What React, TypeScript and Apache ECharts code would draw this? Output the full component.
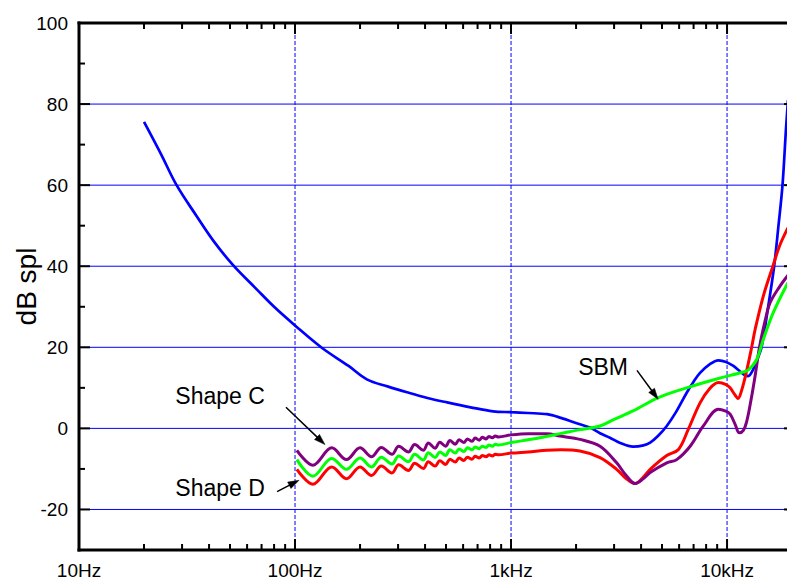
import React, { useEffect, useRef } from 'react';
import * as echarts from 'echarts';

// ---- axis ranges & ticks ----
const F_MIN = 10;
const F_MAX = 19150;
const Y_MIN = -30;
const Y_MAX = 100;

const xMajorTicks = [10, 100, 1000, 10000];
const xTickLabels = ['10Hz', '100Hz', '1kHz', '10kHz'];
const xMinorTicks = [20, 30, 40, 50, 60, 70, 80, 90, 200, 300, 400, 500, 600, 700, 800, 900, 2000, 3000, 4000, 5000, 6000, 7000, 8000, 9000];
const yMajorTicks = [-20, 0, 20, 40, 60, 80, 100];
const yMinorTicks = [-10, 10, 30, 50, 70, 90];
const hGridValues = [-20, 0, 20, 40, 60, 80];
const vGridValues = [100, 1000, 10000];

// ---- blue curve ----
const thresholdFreq = [20, 24, 28.3, 35, 42, 51.8, 66.5, 80, 100, 133, 177, 215, 270, 330, 410, 506, 650, 826, 1000, 1200, 1468, 1700, 2084, 2323, 2582, 2870, 3200, 3670, 4100, 4406, 4800, 5260, 5800, 6505, 7000, 7498, 8300, 9120, 9900, 10700, 11400, 12110, 12540, 13200, 13800, 14450, 15500, 16520, 17300, 18060, 18750, 19150];
const thresholdDb = [75.6, 67.6, 60, 52.4, 46.2, 40.2, 34.3, 30.0, 25.4, 19.9, 15.4, 12.1, 10.3, 8.9, 7.5, 6.4, 5.2, 4.2, 4.0, 3.8, 3.5, 2.6, 1.0, 0.2, -1.2, -2.3, -3.6, -4.5, -4.2, -3.5, -1.8, 0.6, 4.0, 8.8, 11.5, 13.7, 15.8, 16.8, 16.4, 15.4, 14.2, 13.1, 12.9, 14.5, 17.0, 20.0, 30.0, 40.0, 50.0, 60.0, 74.0, 81.0];

// ---- low-frequency ripple section (shared frequencies) ----
const rippleFreq = [102, 121, 148, 173, 200, 226, 251, 281, 302, 335, 358, 393, 414, 445, 468, 498, 521, 552, 575, 605, 628, 660, 682, 713, 736, 767, 790, 820, 845, 875];
const shapeCRippleDb = [-5.4, -9.1, -4.8, -7.7, -4.8, -7.0, -4.7, -6.4, -4.4, -5.8, -4.0, -5.4, -3.6, -4.9, -3.4, -4.4, -3.0, -3.9, -2.8, -3.5, -2.6, -3.2, -2.4, -2.9, -2.2, -2.6, -2.0, -2.3, -1.9, -2.1];
const sbmRippleDb = [-7.7, -11.8, -7.4, -10.1, -7.3, -9.5, -7.1, -8.8, -6.8, -8.2, -6.4, -7.8, -6.0, -7.2, -5.8, -6.7, -5.3, -6.1, -5.1, -5.7, -4.8, -5.3, -4.6, -5.0, -4.4, -4.7, -4.1, -4.4, -3.9, -4.1];
const shapeDRippleDb = [-10.1, -13.8, -9.5, -12.4, -9.5, -11.6, -9.3, -11.0, -9.0, -10.4, -8.6, -9.9, -8.2, -9.3, -8.0, -8.9, -7.6, -8.3, -7.3, -7.9, -7.1, -7.6, -6.9, -7.3, -6.7, -7.0, -6.5, -6.8, -6.4, -6.5];

// ---- upper sections ----
const shapeCUpperFreq = [1000, 1200, 1468, 1687, 2084, 2582, 3083, 3400, 3750, 4100, 4406, 5260, 5850, 6750, 7770, 9120, 9800, 10330, 10900, 11400, 11900, 12300, 12760, 13400, 14130, 15000, 15820, 17580, 19150];
const shapeCUpperDb = [-1.6, -1.3, -1.3, -1.9, -2.7, -4.4, -8.5, -11.5, -13.6, -12.4, -10.9, -8.5, -7.7, -4.4, 0.6, 4.7, 4.3, 3.5, 1.0, -1.1, -0.5, 1.5, 5.5, 12.0, 20.0, 26.5, 31.0, 35.1, 37.8];

const sbmUpperFreq = [1000, 1200, 1360, 1687, 2084, 2582, 3000, 3670, 4810, 6505, 9120, 11880, 12540, 13710, 14730, 16380, 19150];
const sbmUpperDb = [-3.5, -2.8, -2.3, -1.3, -0.3, 0.6, 2.2, 4.3, 7.6, 10.0, 12.3, 13.9, 14.4, 17.0, 22.0, 28.6, 36.0];

const shapeDUpperFreq = [1000, 1200, 1468, 1700, 2084, 2582, 3083, 3400, 3750, 4100, 4406, 5260, 5960, 6620, 7500, 8300, 9120, 9900, 10330, 10800, 11240, 11700, 12300, 13000, 13490, 14730, 16300, 17500, 19150];
const shapeDUpperDb = [-6.1, -5.8, -5.4, -5.3, -5.6, -7.2, -10.1, -12.3, -13.6, -12.0, -10.1, -6.7, -5.2, -0.2, 6.3, 9.8, 11.3, 10.8, 10.0, 8.5, 7.4, 9.5, 14.0, 20.0, 24.4, 32.7, 40.0, 45.0, 49.5];

// ---- annotations (data coordinates) ----
const annotationTexts = [
  { text: 'Shape C', f: 45, db: 8.1 },
  { text: 'Shape D', f: 45, db: -14.6 },
  { text: 'SBM', f: 2668, db: 15.1 },
];
const annotationArrows = [
  { from: [90.8, 5.2], to: [137.6, -4.0] },
  { from: [82.6, -15.6], to: [104.4, -12.8] },
  { from: [3828, 14.3], to: [4797, 7.2] },
];

const FONT = '"Liberation Sans", Arial, Helvetica, sans-serif';

const pair = (fs: number[], vs: number[]) => fs.map((f, i) => [f, vs[i]]);

function labelFor(v: number): string {
  const idx = xMajorTicks.findIndex((t) => Math.abs(t - v) / t < 1e-6);
  return idx >= 0 ? xTickLabels[idx] : '';
}

const curve = (name: string, data: number[][], color: string, width: number) => ({
  name,
  type: 'line',
  data,
  smooth: 0.35,
  showSymbol: false,
  lineStyle: { color, width },
});

export default function App() {
  const ref = useRef<HTMLDivElement>(null);

  useEffect(() => {
    if (!ref.current) return;
    const chart = echarts.init(ref.current, undefined, { renderer: 'svg' });

    const option: any = {
      animation: false,
      backgroundColor: '#fff',
      grid: { left: 79, top: 23, width: 709, height: 527, outerBoundsMode: 'none' },
      xAxis: {
        type: 'log',
        logBase: 10,
        min: F_MIN,
        max: F_MAX,
        position: 'bottom',
        axisLine: { show: false, onZero: false },
        axisTick: { show: false },
        axisLabel: {
          show: true,
          customValues: xMajorTicks,
          formatter: (v: number) => labelFor(v),
          color: '#000',
          fontSize: 19,
          fontFamily: FONT,
          margin: 11,
        },
        splitLine: { show: false },
      },
      yAxis: {
        type: 'value',
        min: Y_MIN,
        max: Y_MAX,
        position: 'left',
        axisLine: { show: false, onZero: false },
        axisTick: { show: false },
        axisLabel: { show: true, customValues: yMajorTicks, color: '#000', fontSize: 19, fontFamily: FONT, margin: 11 },
        splitLine: { show: false },
        name: 'dB spl',
        nameLocation: 'middle',
        nameRotate: 90,
        nameGap: 39,
        nameMoveOverlap: false,
        nameTextStyle: { fontSize: 28, color: '#000', fontFamily: FONT },
      },
      series: [
        curve('Threshold', pair(thresholdFreq, thresholdDb), '#0000ff', 2.7),
        curve('Shape D', [...pair(rippleFreq, shapeDRippleDb), ...pair(shapeDUpperFreq, shapeDUpperDb)], '#ff0000', 3),
        curve('Shape C', [...pair(rippleFreq, shapeCRippleDb), ...pair(shapeCUpperFreq, shapeCUpperDb)], '#800080', 3),
        curve('SBM', [...pair(rippleFreq, sbmRippleDb), ...pair(sbmUpperFreq, sbmUpperDb)], '#00ff00', 3),
      ],
    };

    chart.setOption(option);

    // frame, ticks, grid and annotations, positioned through the chart's own scales
    const toPx = (p: number[]) => chart.convertToPixel({ xAxisIndex: 0, yAxisIndex: 0 }, p) as number[];
    const [left, bottom] = toPx([F_MIN, Y_MIN]);
    const [right, top] = toPx([F_MAX, Y_MAX]);
    const g: any[] = [];
    const seg = (x1: number, y1: number, x2: number, y2: number, stroke: string, lineWidth: number, z: number, lineDash?: number[]) => {
      g.push({
        type: 'line',
        silent: true,
        z,
        shape: { x1, y1, x2, y2 },
        style: lineDash ? { stroke, lineWidth, lineDash } : { stroke, lineWidth },
      });
    };

    // grid lines (beneath the curves)
    hGridValues.forEach((v) => {
      const y = toPx([F_MIN, v])[1];
      seg(left, y, right, y, '#0000ff', 1, 0);
    });
    vGridValues.forEach((f) => {
      const x = toPx([f, Y_MIN])[0];
      seg(x, top, x, bottom, '#0000ff', 1, 0, [4, 2]);
    });

    // ticks
    xMajorTicks.forEach((f) => {
      const x = toPx([f, Y_MIN])[0];
      seg(x, bottom, x, bottom - 11, '#000', 2, 50);
      seg(x, top, x, top + 11, '#000', 2, 50);
    });
    xMinorTicks.forEach((f) => {
      const x = toPx([f, Y_MIN])[0];
      seg(x, bottom, x, bottom - 6, '#000', 2, 50);
      seg(x, top, x, top + 6, '#000', 2, 50);
    });
    yMajorTicks.forEach((v) => {
      const y = toPx([F_MIN, v])[1];
      seg(left, y, left + 11, y, '#000', 2, 50);
      seg(right, y, right - 4, y, '#000', 2, 50);
    });
    yMinorTicks.forEach((v) => {
      const y = toPx([F_MIN, v])[1];
      seg(left, y, left + 6, y, '#000', 2, 50);
    });

    // frame
    seg(left, top - 1.5, left, bottom + 1.5, '#000', 3, 51);
    seg(left - 1.5, bottom, right, bottom, '#000', 3, 51);
    seg(left - 1.5, top, right, top, '#000', 3, 51);

    // annotation texts
    annotationTexts.forEach((t) => {
      const [x, y] = toPx([t.f, t.db]);
      g.push({
        type: 'text',
        x,
        y,
        silent: true,
        z: 100,
        style: { text: t.text, fill: '#000', font: `23px ${FONT}`, align: 'center', verticalAlign: 'middle' },
      });
    });

    // annotation arrows
    annotationArrows.forEach((a) => {
      const [x1, y1] = toPx(a.from);
      const [x2, y2] = toPx(a.to);
      const dx = x2 - x1;
      const dy = y2 - y1;
      const len = Math.sqrt(dx * dx + dy * dy) || 1;
      const ux = dx / len;
      const uy = dy / len;
      const headL = 11;
      const headW = 3.6;
      const bx = x2 - ux * headL;
      const by = y2 - uy * headL;
      seg(x1, y1, bx + ux * 2, by + uy * 2, '#000', 1.5, 100);
      g.push({
        type: 'polygon',
        silent: true,
        z: 100,
        shape: {
          points: [
            [x2, y2],
            [bx - uy * headW, by + ux * headW],
            [bx + uy * headW, by - ux * headW],
          ],
        },
        style: { fill: '#000', stroke: '#000', lineWidth: 0.5 },
      });
    });

    chart.setOption({ graphic: g });

    return () => chart.dispose();
  }, []);

  return (
    <div
      ref={ref}
      style={{ position: 'fixed', left: 0, top: 0, width: 787, height: 581, background: '#fff' }}
    />
  );
}
